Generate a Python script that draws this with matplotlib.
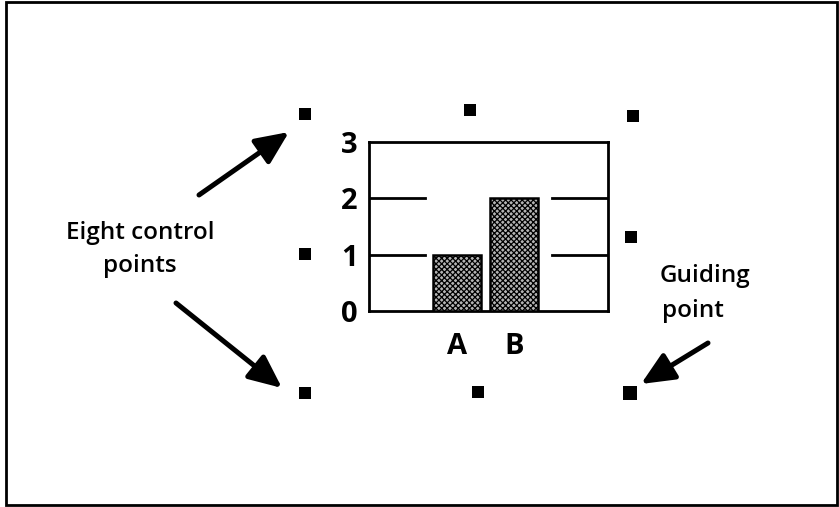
import numpy as np
import matplotlib
matplotlib.use("Agg")
from matplotlib import pyplot as plt
from matplotlib.patches import Rectangle

plt.rcParams['font.family'] = ['Open Sans', 'DejaVu Sans']
plt.rcParams['hatch.linewidth'] = 0.9

# bar chart data
categories = ['A', 'B']
values = [1, 2]
yticks = [0, 1, 2, 3]

# diagram layout (pixel coords of the 839x507 canvas)
handles = [(305, 114), (470, 110), (633, 116), (305, 254), (631, 237), (305, 393), (478, 392)]
guide = (630, 393)
arrows = [((199, 195), (289, 132)), ((176, 303), (282, 388)), ((708, 343), (641, 384))]

fig = plt.figure(figsize=(8.39, 5.07), dpi=100)
bg = fig.add_axes([0, 0, 1, 1])
bg.set_xlim(0, 839)
bg.set_ylim(507, 0)
bg.axis('off')
bg.add_patch(Rectangle((6, 2), 831, 503, fill=False, lw=2.0, ec='black'))

hx, hy = zip(*handles)
bg.scatter(hx, hy, marker='s', s=78, color='black', linewidths=0)
bg.scatter([guide[0]], [guide[1]], marker='s', s=105, color='black', linewidths=0)

for tail, head in arrows:
    bg.annotate('', xy=head, xytext=tail,
                arrowprops=dict(arrowstyle='-|>,head_length=1.0,head_width=0.45',
                                lw=3.6, color='black', mutation_scale=20,
                                shrinkA=0, shrinkB=0))

txt = dict(fontsize=17.5, fontweight='semibold', va='baseline')
bg.text(140, 239, 'Eight control', ha='center', **txt)
bg.text(140, 272, 'points', ha='center', **txt)
bg.text(660, 282, 'Guiding', ha='left', **txt)
bg.text(662, 317, 'point', ha='left', **txt)

# the small bar chart
ax = fig.add_axes([369 / 839, (507 - 311) / 507, 239 / 839, 169 / 507])
x = np.arange(len(categories))
ax.bar(x, values, width=0.84, color='#b4b4b4', edgecolor='black', lw=1.8,
       hatch='xxxxxx', zorder=3)
ax.set_xlim(-1.54, 2.65)
ax.set_ylim(0, 3)
for v in yticks[1:3]:
    ax.plot([-1.54, -0.56], [v, v], color='black', lw=2.0)
    ax.plot([1.67, 2.65], [v, v], color='black', lw=2.0)
ax.set_yticks(yticks)
ax.set_yticklabels([str(t) for t in yticks], fontsize=21, fontweight='bold')
ax.set_xticks(x)
ax.set_xticklabels(categories, fontsize=21, fontweight='bold')
ax.tick_params(axis='both', length=0)
ax.tick_params(axis='y', pad=8)
ax.tick_params(axis='x', pad=15)
for s in ax.spines.values():
    s.set_linewidth(2.0)

fig.savefig('out.png', dpi=100)
